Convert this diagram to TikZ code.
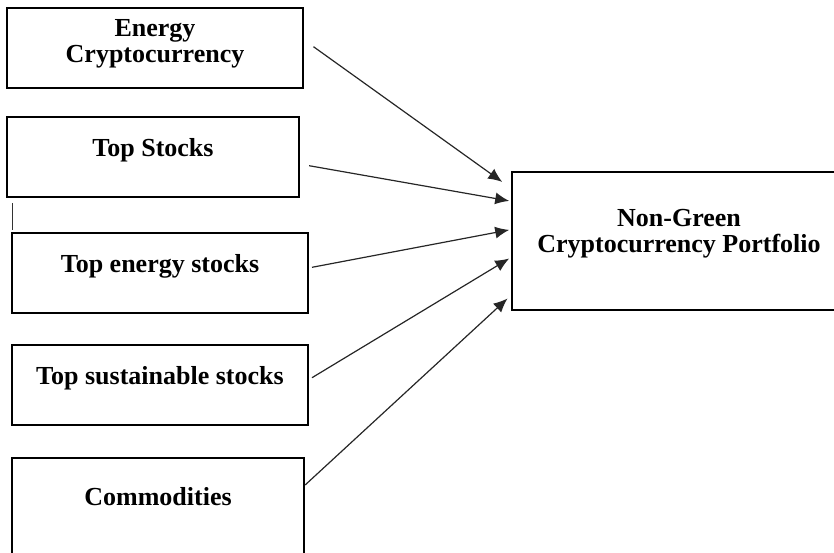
\documentclass[tikz,border=0pt]{standalone}
\usepackage{fontspec}
\setmainfont{Liberation Serif}
\usepackage{tikz}
\usetikzlibrary{arrows.meta,positioning}

\begin{document}
\begin{tikzpicture}[
    x=0.5pt, y=-0.5pt,
    inbox/.style={rectangle, draw, line width=0.8pt, align=center, inner sep=0pt, minimum width=148pt, minimum height=40pt, font=\fontsize{13pt}{13pt}\selectfont\bfseries},
    oneline/.style={inbox, text height=9pt, text depth=10pt},
    link/.style={-{Latex[length=7pt,width=6pt]}, line width=0.6pt, black!85}
]
\useasboundingbox (0,0) rectangle (834,552);
\clip (0,0) rectangle (834,552);

\node[inbox, text depth=7pt] (ec) at (155,48) {Energy\\Cryptocurrency};
\node[oneline, minimum width=146pt] (ts) at (153,157) {Top Stocks};
\node[oneline] (tes) at (160,273) {Top energy stocks};
\node[oneline] (tss) at (160,385) {Top sustainable stocks};
\node[oneline, minimum width=146pt, minimum height=48pt] (cm) at (158,506) {Commodities};
\node[inbox, text depth=10pt, minimum width=167pt, minimum height=69pt] (pf) at (679,241) {Non-Green\\Cryptocurrency Portfolio};

\draw[line width=0.5pt, black!80] (12.7,203) -- (12.7,230);

\draw[link] ([shift={(4.85pt,0.65pt)}]ec.east) -- ([shift={(-4.5pt,-5.35pt)}]pf.north west);
\draw[link] ([shift={(4.65pt,-4.35pt)}]ts.east) -- ([shift={(-1pt,-14.85pt)}]pf.north west);
\draw[link] ([shift={(1.6pt,2.85pt)}]tes.east) -- ([shift={(-1pt,-29.35pt)}]pf.north west);
\draw[link] ([shift={(1.6pt,3.65pt)}]tss.east) -- ([shift={(-1pt,-43.65pt)}]pf.north west);
\draw[link] ([shift={(0.15pt,10.5pt)}]cm.east) -- ([shift={(-1.85pt,-63.65pt)}]pf.north west);

\end{tikzpicture}
\end{document}
